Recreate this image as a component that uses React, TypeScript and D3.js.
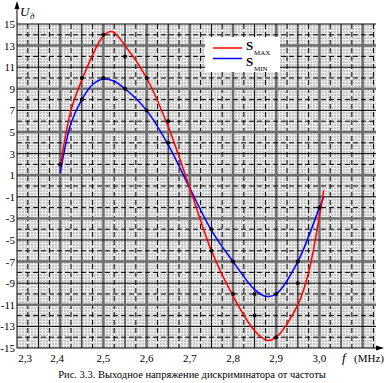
import React from "react";
import * as d3 from "d3";

const W = 386;
const H = 383;

// S_MAX curve (red)
const maxFreq = [2.40, 2.425, 2.45, 2.50, 2.52, 2.55, 2.60, 2.65, 2.70, 2.75, 2.80, 2.85, 2.88, 2.90, 2.95, 2.975, 3.00, 3.01];
const maxVals = [1.8, 7.0, 9.8, 13.9, 14.3, 13.0, 10.0, 5.5, -0.2, -6.0, -10.2, -13.4, -14.3, -14.0, -11.0, -8.0, -2.8, -0.4];

// S_MIN curve (blue)
const minFreq = [2.40, 2.425, 2.45, 2.475, 2.50, 2.525, 2.55, 2.60, 2.65, 2.70, 2.75, 2.80, 2.85, 2.875, 2.90, 2.95, 3.00, 3.01];
const minVals = [1.2, 5.8, 8.0, 9.4, 9.9, 9.7, 9.0, 7.0, 3.8, -0.2, -4.1, -7.0, -9.6, -10.2, -10.0, -7.0, -2.0, -1.0];

// measured points (black dots)
const dotFreq = [2.40, 2.45, 2.45, 2.50, 2.50, 2.55, 2.55, 2.60, 2.60, 2.65, 2.65, 2.75, 2.75, 2.80, 2.80, 2.85, 2.85, 2.90, 2.90, 2.95, 2.95, 3.00];
const dotVals = [2, 10, 8, 14, 10, 12, 9, 10, 7, 6, 4, -4, -6, -7, -10, -10, -12, -10, -14, -7, -9, -2];

const yTicks = [15, 13, 11, 9, 7, 5, 3, 1, -1, -3, -5, -7, -9, -11, -13, -15];
const xTicks = [2.3, 2.4, 2.5, 2.6, 2.7, 2.8, 2.9, 3.0];
const xTickLabels = ["2,3", "2,4", "2,5", "2,6", "2,7", "2,8", "2,9", "3,0"];

const caption = "Рис. 3.3. Выходное напряжение дискриминатора от частоты";

export default function App() {
  const x = d3.scaleLinear().domain([2.3, 3.13]).range([17, 375.6]);
  const y = d3.scaleLinear().domain([-15, 15]).range([348, 24]);
  const left = 17, right = 376, top = 24, bottom = 348;

  const vLines: { v: number; kind: string }[] = [];
  for (let i = 1; i <= 33; i++) {
    const v = 2.3 + i * 0.025;
    const kind = i % 2 === 1 ? "dash" : i % 4 === 0 ? "gray" : "black";
    vLines.push({ v, kind });
  }
  const hLines: { v: number; kind: string }[] = [];
  for (let v = -14; v <= 15; v++) {
    let kind = "dash";
    if (Math.abs(v) % 2 === 1) {
      kind = ((v - 1) % 4 + 4) % 4 === 0 ? "gray" : "black";
    }
    hLines.push({ v, kind });
  }
  const style = (k: string) =>
    k === "dash"
      ? { stroke: "#000", strokeWidth: 1, strokeDasharray: "5,3" }
      : k === "gray"
      ? { stroke: "#6e6e6e", strokeWidth: 2.5 }
      : { stroke: "#000", strokeWidth: 1 };

  const line = d3
    .line<[number, number]>()
    .x((d) => x(d[0]))
    .y((d) => y(d[1]))
    .curve(d3.curveCatmullRom.alpha(0.5));
  const maxPath = line(maxFreq.map((f, i) => [f, maxVals[i]] as [number, number])) || "";
  const minPath = line(minFreq.map((f, i) => [f, minVals[i]] as [number, number])) || "";

  const serif = "'Liberation Serif', 'Times New Roman', serif";

  return (
    <svg width={W} height={H} style={{ position: "absolute", left: 0, top: 0, background: "#fff" }}>
      <defs>
        <pattern id="tex" width="3" height="3" patternUnits="userSpaceOnUse">
          <rect width="3" height="3" fill="#c6c6c6" />
          <rect x="0" y="0" width="3" height="1" fill="#ececec" />
          <rect x="0" y="0" width="1" height="3" fill="#ececec" />
        </pattern>
      </defs>
      <rect x={left} y={top} width={right - left} height={bottom - top} fill="url(#tex)" />
      {vLines.map((l, i) => (
        <line key={"v" + i} x1={x(l.v)} x2={x(l.v)} y1={top} y2={bottom} {...style(l.kind)} />
      ))}
      {hLines.map((l, i) => (
        <line key={"h" + i} x1={left} x2={right} y1={y(l.v)} y2={y(l.v)} {...style(l.kind)} />
      ))}

      {/* axes */}
      <line x1={left} x2={left} y1={bottom} y2={6} stroke="#000" strokeWidth={1} />
      <path d={`M${left},1 L${left - 2.5},9 L${left + 2.5},9 Z`} fill="#000" />
      <line x1={left} x2={379} y1={bottom} y2={bottom} stroke="#000" strokeWidth={1} />
      <path d={`M384,${bottom} L376,${bottom - 2.5} L376,${bottom + 2.5} Z`} fill="#000" />

      {/* curves */}
      <path d={minPath} fill="none" stroke="#0000ff" strokeWidth={1.5} />
      <path d={maxPath} fill="none" stroke="#ff0000" strokeWidth={1.5} />
      {dotFreq.map((f, i) => (
        <circle key={"d" + i} cx={x(f)} cy={y(dotVals[i])} r={2} fill="#000" />
      ))}

      {/* legend */}
      <rect x={205} y={37} width={75} height={35} fill="#fff" />
      <line x1={213} x2={242} y1={48} y2={48} stroke="#ff0000" strokeWidth={1.5} />
      <line x1={213} x2={242} y1={58.5} y2={58.5} stroke="#0000ff" strokeWidth={1.5} />
      <text x={246} y={50} fontFamily={serif} fontWeight="bold" fontSize={13}>S</text>
      <text x={254} y={54.5} fontFamily={serif} fontSize={7}>MAX</text>
      <text x={246} y={66} fontFamily={serif} fontWeight="bold" fontSize={13}>S</text>
      <text x={254} y={70.5} fontFamily={serif} fontSize={7}>MIN</text>

      {/* y ticks */}
      {yTicks.map((t, i) => (
        <text key={"yt" + i} x={15} y={y(t) + 4} textAnchor="end" fontFamily={serif} fontSize={11}>
          {t}
        </text>
      ))}
      {/* x ticks */}
      {xTicks.map((t, i) => (
        <text
          key={"xt" + i}
          x={x(t) + (i === 0 ? 8 : i === 1 ? -3 : 0)}
          y={362}
          textAnchor="middle"
          fontFamily={serif}
          fontSize={11}
        >
          {xTickLabels[i]}
        </text>
      ))}

      {/* axis titles */}
      <text x={20} y={16} fontFamily={serif} fontStyle="italic" fontSize={13}>U</text>
      <text x={30} y={19} fontFamily={serif} fontStyle="italic" fontSize={9}>д</text>
      <text x={342} y={362} fontFamily={serif} fontStyle="italic" fontSize={13}>f</text>
      <text x={354} y={362} fontFamily={serif} fontSize={11}>(MHz)</text>

      <text x={192} y={378} textAnchor="middle" fontFamily={serif} fontSize={10.5}>
        {caption}
      </text>
    </svg>
  );
}
